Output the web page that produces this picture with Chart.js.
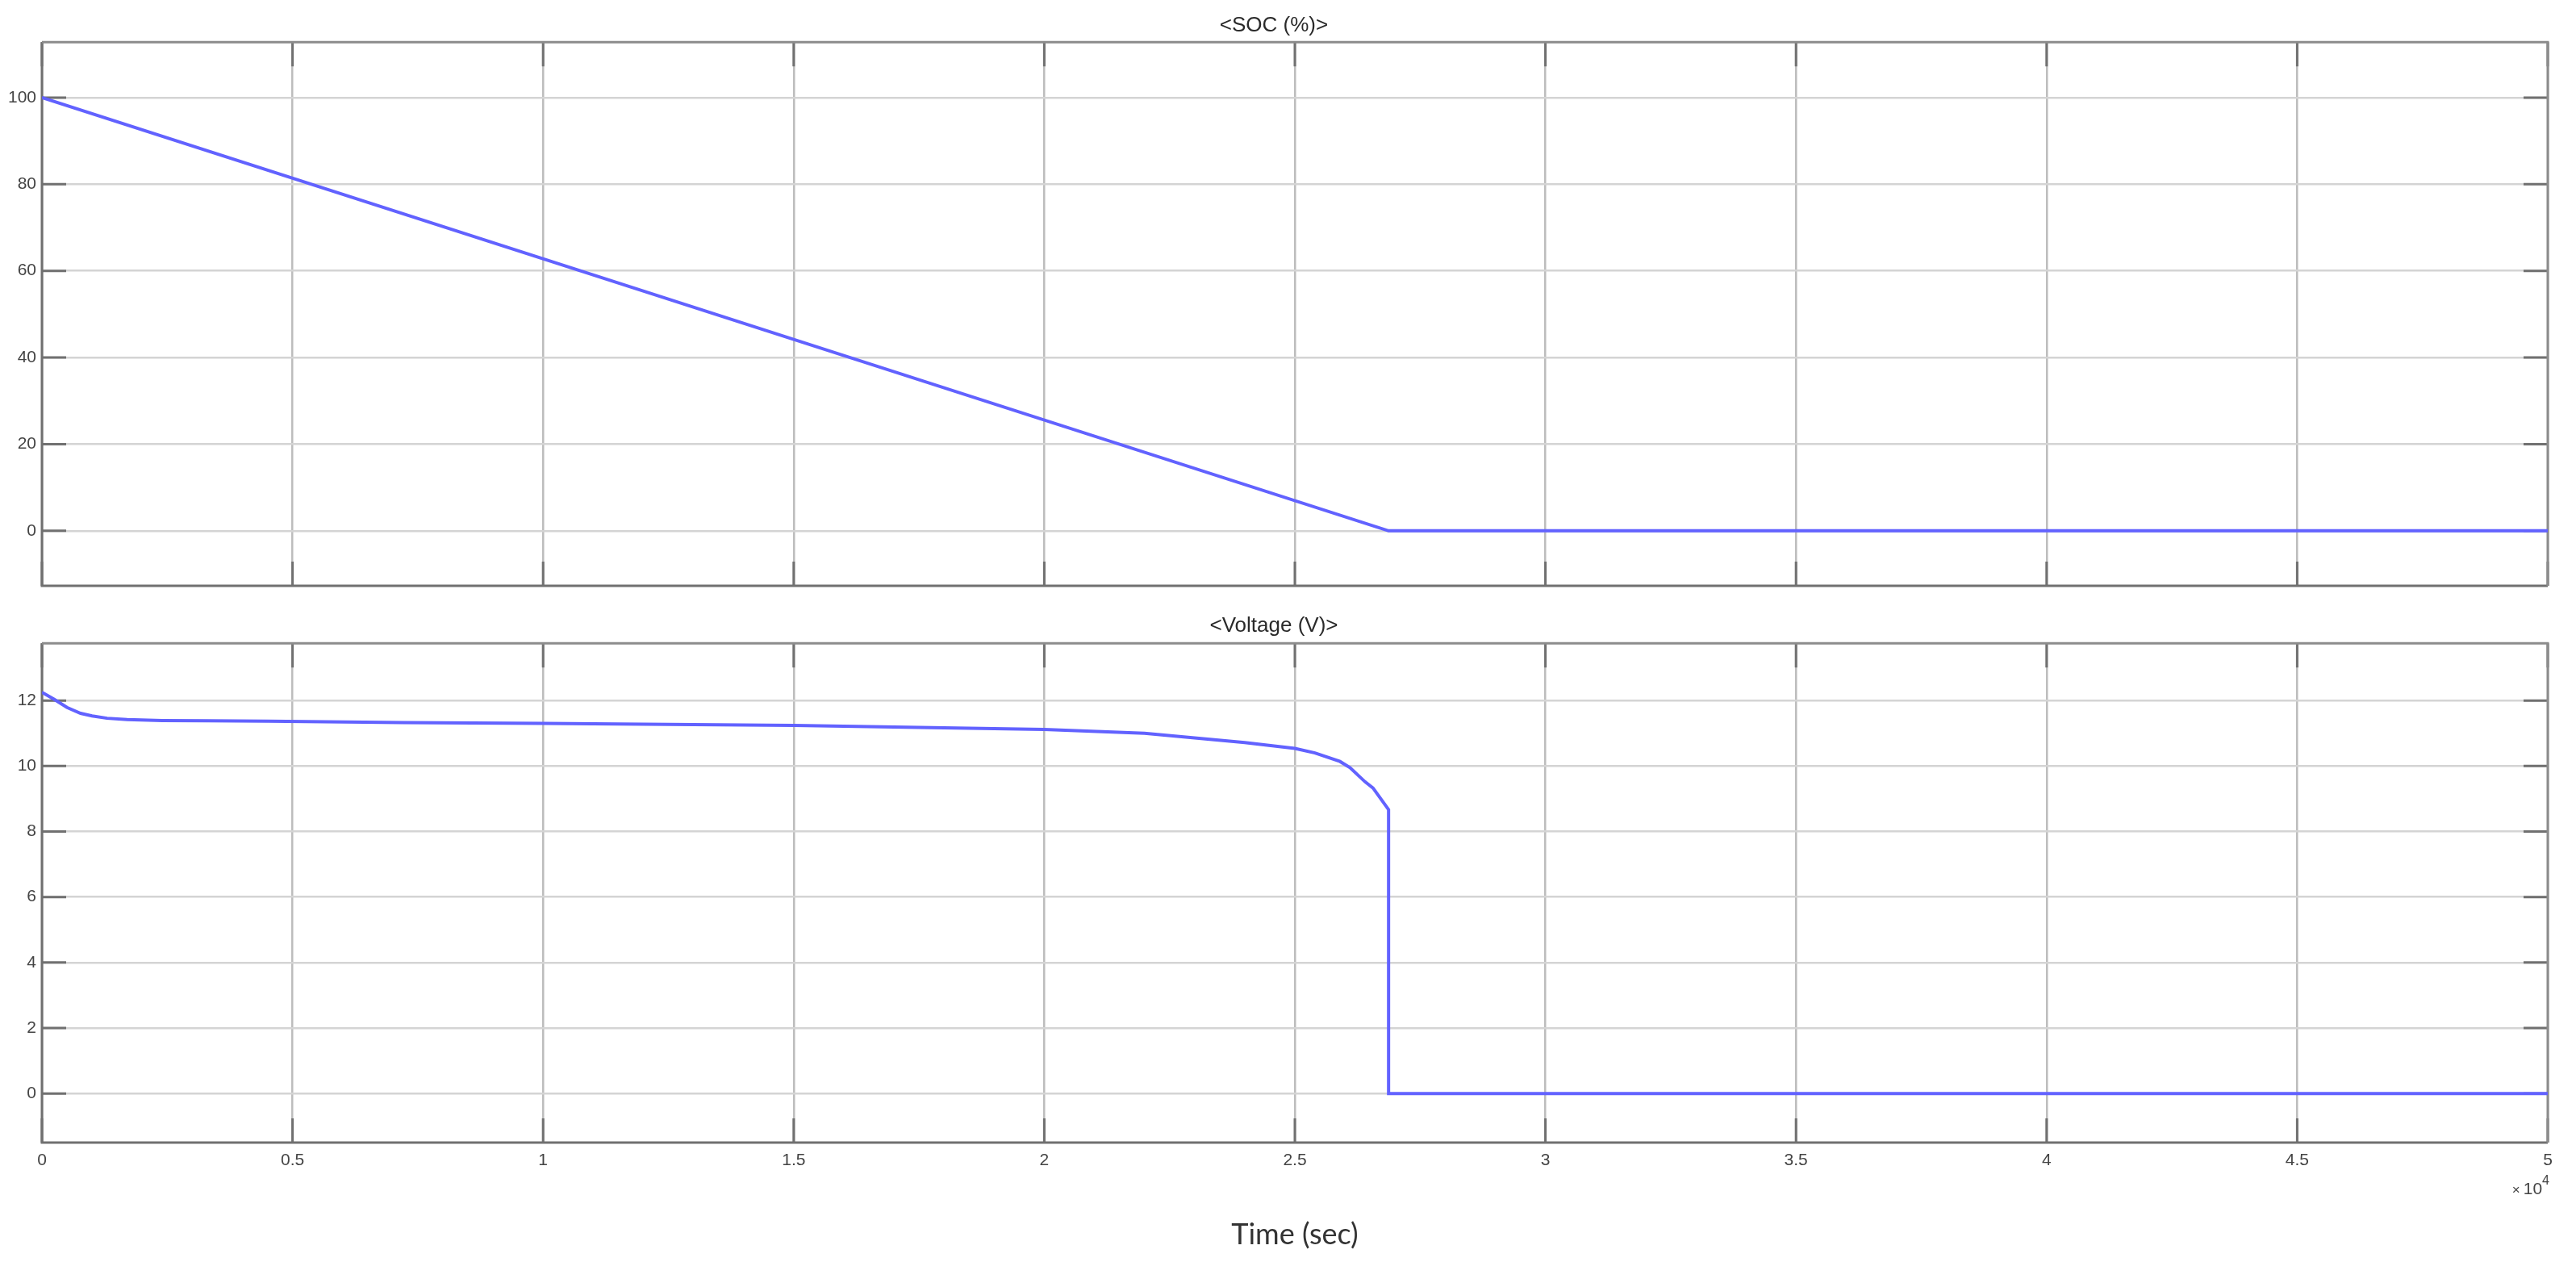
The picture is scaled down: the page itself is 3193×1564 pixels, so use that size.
<!DOCTYPE html>
<html>
<head>
<meta charset="utf-8">
<title>Battery SOC and voltage</title>
<script src="https://cdn.jsdelivr.net/npm/chart.js@4.4.1/dist/chart.umd.min.js"></script>
<style>
  html, body { margin: 0; padding: 0; background: #fff; }
  #wrap { position: relative; width: 3193px; height: 1564px; }
  .panel { position: absolute; left: 0; width: 3193px; }
  #socBox { top: 0; height: 760px; }
  #voltBox { top: 760px; height: 804px; }
</style>
</head>
<body>
<div id="wrap">
  <div class="panel" id="socBox"><canvas id="socChart"></canvas></div>
  <div class="panel" id="voltBox"><canvas id="voltChart"></canvas></div>
</div>
<script>
// values (time in seconds)
const socTime = [0, 26870, 50000];
const socValues = [100, 0, 0];

const voltTime = [0, 240, 500, 770, 1000, 1300, 1700, 2400, 3300, 4500, 7200, 10000,
  15000, 20000, 22000, 24000, 25000, 25400, 25900, 26100, 26400, 26560, 26870, 26870, 50000];
const voltValues = [12.25, 12.04, 11.79, 11.61, 11.53, 11.46, 11.42, 11.39, 11.38, 11.37, 11.33, 11.3,
  11.24, 11.12, 11.0, 10.72, 10.54, 10.4, 10.14, 9.95, 9.52, 9.33, 8.67, 0, 0];

const xTicks = [0, 5000, 10000, 15000, 20000, 25000, 30000, 35000, 40000, 45000, 50000];
const xTickLabels = ['0', '0.5', '1', '1.5', '2', '2.5', '3', '3.5', '4', '4.5', '5'];
const socTicks = [0, 20, 40, 60, 80, 100];
const voltTicks = [0, 2, 4, 6, 8, 10, 12];

const lineColor = '#6262ff';
const frameColor = '#707070';
const labelFont = { family: 'Liberation Sans, Arial, sans-serif', size: 21 };

const toPoints = (xs, ys) => xs.map((x, i) => ({ x: x, y: ys[i] }));
const setTicks = (list) => (scale) => { scale.ticks = list.map(v => ({ value: v })); };

// matlab style box with inward tick marks
const framePlugin = {
  id: 'frame',
  beforeDatasetsDraw(chart) {
    const { ctx, chartArea: a } = chart;
    const x = chart.scales.x, y = chart.scales.y;
    ctx.save();
    ctx.strokeStyle = frameColor;
    ctx.lineWidth = 3;
    ctx.beginPath();
    x.ticks.forEach(t => {
      const px = x.getPixelForValue(t.value);
      ctx.moveTo(px, a.bottom); ctx.lineTo(px, a.bottom - 30);
      ctx.moveTo(px, a.top); ctx.lineTo(px, a.top + 30);
    });
    y.ticks.forEach(t => {
      const py = y.getPixelForValue(t.value);
      ctx.moveTo(a.left, py); ctx.lineTo(a.left + 30, py);
      ctx.moveTo(a.right, py); ctx.lineTo(a.right - 30, py);
    });
    ctx.stroke();
    // left + bottom darker, top + right a bit lighter
    ctx.beginPath();
    ctx.moveTo(a.left, a.top); ctx.lineTo(a.left, a.bottom); ctx.lineTo(a.right, a.bottom);
    ctx.stroke();
    ctx.strokeStyle = '#8c8c8c';
    ctx.beginPath();
    ctx.moveTo(a.left, a.top); ctx.lineTo(a.right, a.top); ctx.lineTo(a.right, a.bottom);
    ctx.stroke();
    ctx.restore();
  }
};

// "x10^4" exponent under the last x tick
const exponentPlugin = {
  id: 'exponent',
  afterDraw(chart) {
    const { ctx, chartArea: a } = chart;
    const right = a.right + 2;
    const base = a.bottom + 64;
    ctx.save();
    ctx.fillStyle = '#444';
    ctx.textBaseline = 'alphabetic';
    ctx.textAlign = 'right';
    ctx.font = '16px Liberation Sans, Arial, sans-serif';
    ctx.fillText('4', right, base - 12);
    const w4 = ctx.measureText('4').width;
    ctx.font = '21px Liberation Sans, Arial, sans-serif';
    ctx.fillText('10', right - w4, base);
    const w10 = ctx.measureText('10').width;
    ctx.font = '17px Liberation Sans, Arial, sans-serif';
    ctx.fillText('\u00d7', right - w4 - w10 - 4, base);
    ctx.restore();
  }
};

function makeOptions(title, titlePad, yMin, yMax, yTicks, showX) {
  return {
    responsive: true,
    maintainAspectRatio: false,
    animation: false,
    layout: { padding: { left: 0, right: 35, top: 0, bottom: showX ? 0 : 34 } },
    plugins: {
      legend: { display: false },
      tooltip: { enabled: false },
      title: {
        display: true,
        text: title,
        color: '#2a2a2a',
        font: { family: 'Liberation Sans, Arial, sans-serif', size: 26, weight: 'normal' },
        padding: titlePad
      }
    },
    scales: {
      x: {
        type: 'linear',
        min: 0,
        max: 50000,
        afterBuildTicks: setTicks(xTicks),
        afterFit: (s) => { s.height = showX ? 148 : 0; },
        grid: { color: '#bdbdbd', lineWidth: 2.5, drawTicks: false },
        border: { display: false },
        ticks: {
          display: showX,
          padding: 10,
          color: '#444',
          font: labelFont,
          maxRotation: 0,
          autoSkip: false,
          callback: (v, i) => xTickLabels[i]
        },
        title: {
          display: showX,
          text: 'Time (sec)',
          color: '#333',
          font: { family: 'Lato, Open Sans, sans-serif', size: 36 },
          padding: { top: 0, bottom: 12 }
        }
      },
      y: {
        min: yMin,
        max: yMax,
        afterBuildTicks: setTicks(yTicks),
        afterFit: (s) => { s.width = 52; },
        grid: { color: '#d4d4d4', lineWidth: 2.5, drawTicks: false },
        border: { display: false },
        ticks: { padding: 7, color: '#444', font: labelFont }
      }
    }
  };
}

const lineStyle = {
  showLine: true,
  borderColor: lineColor,
  borderWidth: 4,
  pointRadius: 0,
  tension: 0,
  fill: false
};

new Chart(document.getElementById('socChart'), {
  type: 'scatter',
  data: { datasets: [Object.assign({ label: 'SOC (%)', data: toPoints(socTime, socValues) }, lineStyle)] },
  options: makeOptions('<SOC (%)>', { top: 16, bottom: 5 }, -12.7, 112.8, socTicks, false),
  plugins: [framePlugin]
});

new Chart(document.getElementById('voltChart'), {
  type: 'scatter',
  data: { datasets: [Object.assign({ label: 'Voltage (V)', data: toPoints(voltTime, voltValues) }, lineStyle)] },
  options: makeOptions('<Voltage (V)>', { top: 0, bottom: 6 }, -1.5, 13.75, voltTicks, true),
  plugins: [framePlugin, exponentPlugin]
});
</script>
</body>
</html>
